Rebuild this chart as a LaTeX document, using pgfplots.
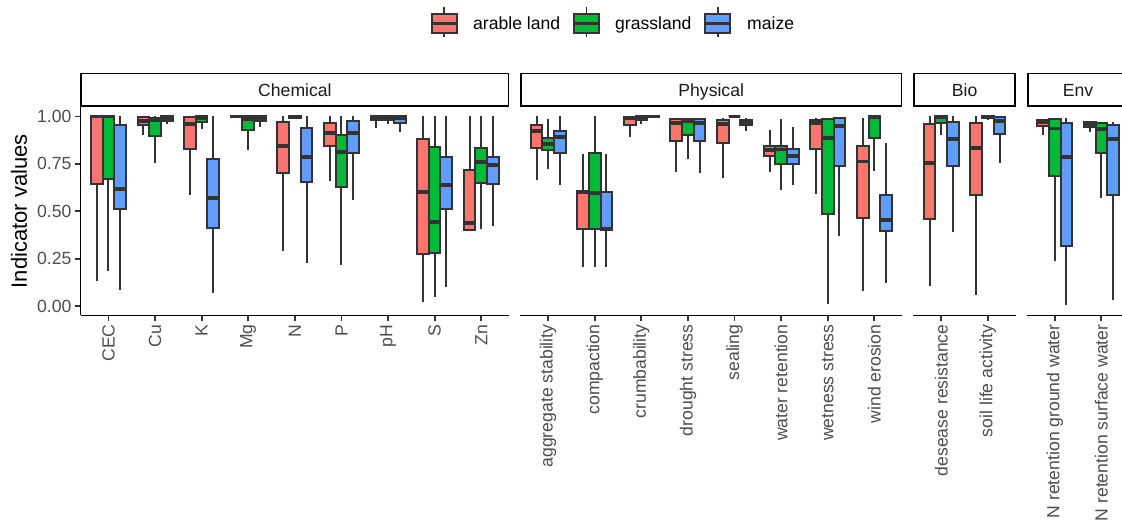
\documentclass[border=0pt]{standalone}
\usepackage{fontspec}
\setmainfont{Liberation Sans}
\usepackage{pgfplots}
\pgfplotsset{compat=1.18}
\usepgfplotslibrary{statistics}

\definecolor{arable}{HTML}{F8766D}
\definecolor{grass}{HTML}{00BA38}
\definecolor{maize}{HTML}{619CFF}
\definecolor{bord}{HTML}{333333}
\definecolor{tickgrey}{HTML}{4D4D4D}
\definecolor{stripgrey}{HTML}{1A1A1A}

% position, lower whisker, lower quartile, median, upper quartile, upper whisker, colour
\newcommand{\bx}[7]{%
\addplot[boxplot prepared={draw direction=y, draw position=#1, lower whisker=#2, lower quartile=#3, median=#4, upper quartile=#5, upper whisker=#6, box extend=0.25, whisker extend=0}, draw=bord, fill=#7, line width=2pt] coordinates {};}

\pgfplotsset{
  panel/.style={
    scale only axis, height=208.5pt,
    ymin=-0.05, ymax=1.05,
    axis x line*=bottom,
    tick align=outside, major tick length=5.5pt,
    tick style={bord, line width=1.8pt},
    axis line style={black, line width=1.8pt},
    ticklabel style={font=\fontsize{17.6}{20}\selectfont, text=tickgrey},
    xticklabel style={rotate=90, anchor=east},
    boxplot/draw direction=y,
    boxplot/every median/.style={line width=3.8pt},
  },
}

\newcommand{\tsz}{\fontsize{17.6}{20}\selectfont}

\begin{document}
\begin{tikzpicture}
\useasboundingbox (0pt,0pt) rectangle (1122pt,525pt);
\clip (0pt,0pt) rectangle (1122pt,525pt);
\fill[white] (0pt,0pt) rectangle (1122pt,525pt);

% ---------------- Chemical ----------------
\begin{axis}[panel, at={(80.5pt,209.5pt)}, anchor=south west, width=428.7pt,
  xmin=0.4, xmax=9.6, xtick={1,...,9},
  xticklabels={CEC,Cu,K,Mg,N,P,pH,S,Zn},
  axis y line*=left,
  ytick={0,0.25,0.5,0.75,1}, yticklabels={0.00,0.25,0.50,0.75,1.00},
  ylabel={Indicator values},
  every axis y label/.style={at={(axis description cs:-0.1435,0.5)}, rotate=90, anchor=center, font=\fontsize{22}{26}\selectfont, text=black},
]
% CEC
\bx{0.75}{0.13}{0.645}{1.0}{1.0}{1.0}{arable}
\bx{1.00}{0.186}{0.672}{1.0}{1.0}{1.0}{grass}
\bx{1.25}{0.086}{0.514}{0.616}{0.953}{1.0}{maize}
% Cu
\bx{1.75}{0.90}{0.957}{0.975}{0.995}{1.0}{arable}
\bx{2.00}{0.753}{0.896}{0.98}{0.993}{1.0}{grass}
\bx{2.25}{0.958}{0.976}{0.99}{1.0}{1.0}{maize}
% K
\bx{2.75}{0.586}{0.831}{0.961}{0.995}{1.0}{arable}
\bx{3.00}{0.935}{0.972}{0.99}{1.0}{1.0}{grass}
\bx{3.25}{0.067}{0.41}{0.572}{0.774}{1.0}{maize}
% Mg
\bx{3.75}{0.99}{0.995}{1.0}{1.0}{1.0}{arable}
\bx{4.00}{0.823}{0.928}{0.985}{1.0}{1.0}{grass}
\bx{4.25}{0.946}{0.978}{0.99}{1.0}{1.0}{maize}
% N
\bx{4.75}{0.291}{0.70}{0.844}{0.972}{1.0}{arable}
\bx{5.00}{0.985}{0.99}{1.0}{1.0}{1.0}{grass}
\bx{5.25}{0.226}{0.653}{0.788}{0.937}{1.0}{maize}
% P
\bx{5.75}{0.66}{0.844}{0.914}{0.967}{1.0}{arable}
\bx{6.00}{0.216}{0.628}{0.812}{0.902}{1.0}{grass}
\bx{6.25}{0.559}{0.809}{0.911}{0.975}{1.0}{maize}
% pH
\bx{6.75}{0.94}{0.979}{0.99}{1.0}{1.0}{arable}
\bx{7.00}{0.958}{0.982}{0.99}{1.0}{1.0}{grass}
\bx{7.25}{0.919}{0.965}{0.99}{1.0}{1.0}{maize}
% S
\bx{7.75}{0.019}{0.275}{0.60}{0.882}{1.0}{arable}
\bx{8.00}{0.049}{0.281}{0.444}{0.84}{1.0}{grass}
\bx{8.25}{0.098}{0.51}{0.639}{0.788}{1.0}{maize}
% Zn
\bx{8.75}{0.40}{0.40}{0.437}{0.718}{1.0}{arable}
\bx{9.00}{0.405}{0.647}{0.76}{0.832}{1.0}{grass}
\bx{9.25}{0.423}{0.642}{0.744}{0.788}{1.0}{maize}
\end{axis}

% ---------------- Physical ----------------
\begin{axis}[panel, at={(520.2pt,209.5pt)}, anchor=south west, width=382.1pt,
  xmin=0.4, xmax=8.6, xtick={1,...,8},
  xticklabels={aggregate stability,compaction,crumbability,drought stress,sealing,water retention,wetness stress,wind erosion},
  axis y line=none,
]
% aggregate stability
\bx{0.75}{0.663}{0.835}{0.923}{0.954}{1.0}{arable}
\bx{1.00}{0.725}{0.823}{0.853}{0.888}{0.988}{grass}
\bx{1.25}{0.639}{0.809}{0.891}{0.926}{1.0}{maize}
% compaction
\bx{1.75}{0.207}{0.405}{0.60}{0.607}{0.803}{arable}
\bx{2.00}{0.207}{0.405}{0.598}{0.805}{1.0}{grass}
\bx{2.25}{0.207}{0.40}{0.405}{0.60}{0.803}{maize}
% crumbability
\bx{2.75}{0.893}{0.954}{0.99}{0.995}{1.0}{arable}
\bx{3.00}{0.961}{0.984}{0.995}{1.0}{1.0}{grass}
\bx{3.25}{0.995}{0.998}{1.0}{1.0}{1.0}{maize}
% drought stress
\bx{3.75}{0.707}{0.87}{0.967}{0.987}{0.99}{arable}
\bx{4.00}{0.774}{0.90}{0.977}{0.987}{0.99}{grass}
\bx{4.25}{0.70}{0.87}{0.967}{0.987}{0.99}{maize}
% sealing
\bx{4.75}{0.674}{0.858}{0.961}{0.979}{0.993}{arable}
\bx{5.00}{0.998}{1.0}{1.0}{1.0}{1.0}{grass}
\bx{5.25}{0.923}{0.953}{0.967}{0.98}{0.99}{maize}
% water retention
\bx{5.75}{0.709}{0.791}{0.823}{0.844}{0.928}{arable}
\bx{6.00}{0.611}{0.751}{0.826}{0.844}{0.988}{grass}
\bx{6.25}{0.637}{0.751}{0.791}{0.83}{0.946}{maize}
% wetness stress
\bx{6.75}{0.593}{0.826}{0.967}{0.98}{0.99}{arable}
\bx{7.00}{0.01}{0.484}{0.888}{0.987}{0.99}{grass}
\bx{7.25}{0.37}{0.738}{0.949}{0.99}{0.99}{maize}
% wind erosion
\bx{7.75}{0.081}{0.467}{0.762}{0.844}{0.99}{arable}
\bx{8.00}{0.712}{0.884}{0.995}{1.0}{1.0}{grass}
\bx{8.25}{0.119}{0.396}{0.453}{0.584}{0.861}{maize}
\end{axis}

% ---------------- Bio ----------------
\begin{axis}[panel, at={(913.3pt,209.5pt)}, anchor=south west, width=102.5pt,
  xmin=0.4, xmax=2.6, xtick={1,2},
  xticklabels={desease resistance,soil life activity},
  axis y line=none,
]
\bx{0.75}{0.104}{0.461}{0.756}{0.958}{1.0}{arable}
\bx{1.00}{0.902}{0.963}{0.995}{1.0}{1.0}{grass}
\bx{1.25}{0.393}{0.738}{0.882}{0.97}{1.0}{maize}
\bx{1.75}{0.06}{0.586}{0.835}{0.967}{1.0}{arable}
\bx{2.00}{0.98}{0.99}{1.0}{1.0}{1.0}{grass}
\bx{2.25}{0.756}{0.905}{0.975}{0.998}{1.0}{maize}
\end{axis}

% ---------------- Env ----------------
\begin{axis}[panel, at={(1026.8pt,209.5pt)}, anchor=south west, width=102.5pt,
  xmin=0.4, xmax=2.6, xtick={1,2},
  xticklabels={N retention ground water,N retention surface water},
  axis y line=none,
]
\bx{0.75}{0.90}{0.949}{0.97}{0.98}{0.985}{arable}
\bx{1.00}{0.238}{0.686}{0.937}{0.987}{0.99}{grass}
\bx{1.25}{0.007}{0.317}{0.788}{0.963}{0.99}{maize}
\bx{1.75}{0.919}{0.946}{0.958}{0.97}{0.97}{arable}
\bx{2.00}{0.572}{0.809}{0.935}{0.967}{0.97}{grass}
\bx{2.25}{0.032}{0.584}{0.882}{0.954}{0.97}{maize}
\end{axis}

\begin{scope}[x=1pt,y=1pt]
% ---------------- strips ----------------
\begin{scope}[line width=1.8pt]
\draw[black, fill=white] (81.3,419) rectangle (508.4,451.5);
\draw[black, fill=white] (521.0,419) rectangle (901.5,451.5);
\draw[black, fill=white] (914.1,419) rectangle (1015.0,451.5);
\draw[black, fill=white] (1027.6,419) rectangle (1128.5,451.5);
\end{scope}
\node[anchor=base, text=stripgrey, font=\tsz] at (294.9,428.5) {Chemical};
\node[anchor=base, text=stripgrey, font=\tsz] at (711.2,428.5) {Physical};
\node[anchor=base, text=stripgrey, font=\tsz] at (964.6,428.5) {Bio};
\node[anchor=base, text=stripgrey, font=\tsz] at (1078.1,428.5) {Env};

% ---------------- legend ----------------
\foreach \cx/\col/\lab/\tx in {444.2/arable/arable land/473, 586.5/grass/grassland/615, 717.7/maize/maize/747} {
  \draw[bord, line width=1.6pt] (\cx,517.7) -- (\cx,511);
  \draw[bord, line width=1.6pt] (\cx,491.7) -- (\cx,487.7);
  \draw[bord, fill=\col, line width=1.6pt] (\cx-12.5,491.7) rectangle (\cx+12.5,511);
  \draw[bord, line width=3pt] (\cx-12.5,501.3) -- (\cx+12.5,501.3);
  \node[anchor=base west, inner sep=0pt, font=\tsz, text=black] at (\tx,495) {\lab};
}
\end{scope}
\end{tikzpicture}
\end{document}
